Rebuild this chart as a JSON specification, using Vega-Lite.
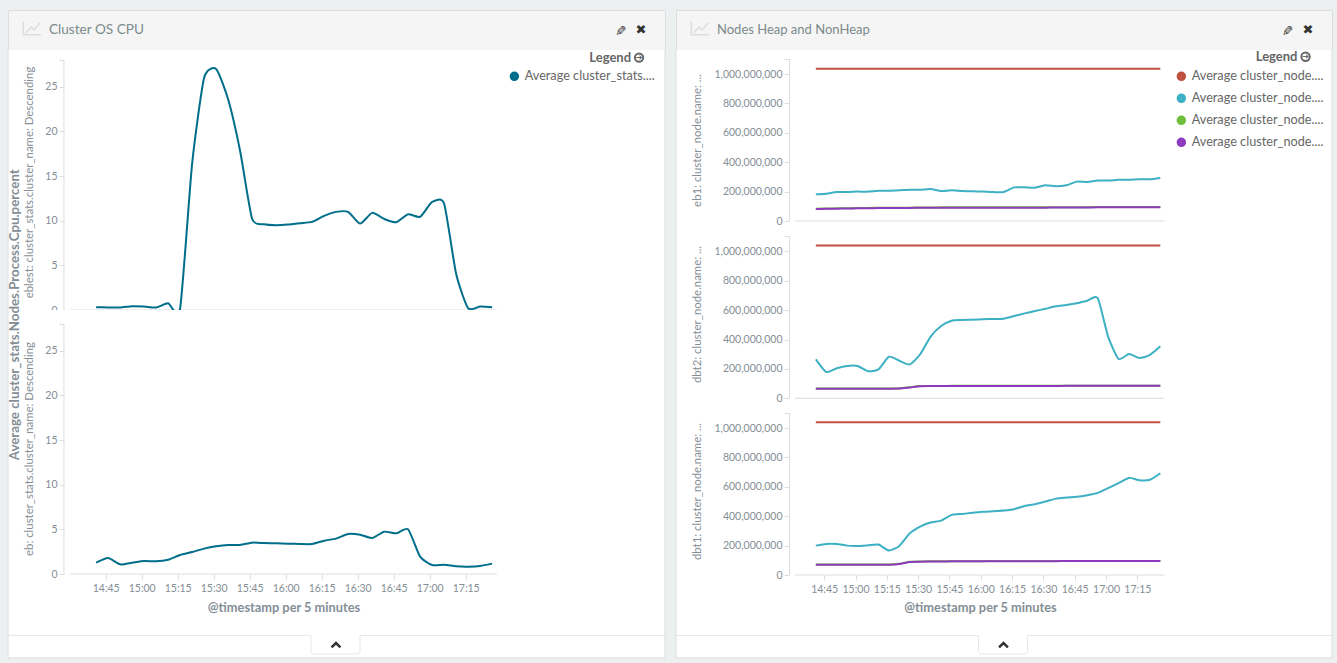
{"$schema":"https://vega.github.io/schema/vega-lite/v6.json","background":"#ecf0f1","padding":{"left":6,"top":9,"right":5,"bottom":5},"spacing":7,"config":{"font":"Lato","view":{"stroke":null,"fill":"#ffffff"},"axis":{"domain":false,"grid":false,"tickColor":"#dddddd","labelColor":"#848e96","titleColor":"#848e96","labelFontSize":10.5,"titleFontSize":11.4,"titleFontWeight":"normal","labelOverlap":false,"labelFlush":false}},"resolve":{"scale":{"color":"independent"}},
"datasets":{
"headerIcon":[{"pos":0.0233,"y":0.29,"part":"a"},{"pos":0.0233,"y":0.62,"part":"a"},{"pos":0.0502,"y":0.62,"part":"a"},{"pos":0.0274,"y":0.575,"part":"b"},{"pos":0.035,"y":0.425,"part":"b"},{"pos":0.0396,"y":0.5,"part":"b"},{"pos":0.0487,"y":0.325,"part":"b"}],
"footerLine":[{"pos":0,"y":0.02},{"pos":0.4612,"y":0.02},{"pos":0.4612,"y":0.74},{"pos":0.4642,"y":0.826},{"pos":0.5328,"y":0.826},{"pos":0.5358,"y":0.74},{"pos":0.5358,"y":0.02},{"pos":1,"y":0.02}],
"footerFrame":[{"pos":0,"y":0,"part":"l"},{"pos":0,"y":1,"part":"l"},{"pos":1,"y":0,"part":"r"},{"pos":1,"y":1,"part":"r"},{"pos":0,"y":1,"part":"b"},{"pos":1,"y":1,"part":"b"}],
"chevron":[{"pos":0.4924,"y":0.54},{"pos":0.4992,"y":0.35},{"pos":0.506,"y":0.54}],
"cpuA":[{"t":"2015-06-01T14:41:00Z","v":0.32},{"t":"2015-06-01T14:46:00Z","v":0.28},{"t":"2015-06-01T14:51:00Z","v":0.28},{"t":"2015-06-01T14:56:00Z","v":0.43},{"t":"2015-06-01T15:01:00Z","v":0.39},{"t":"2015-06-01T15:06:00Z","v":0.28},{"t":"2015-06-01T15:11:00Z","v":0.76},{"t":"2015-06-01T15:16:00Z","v":0.2},{"t":"2015-06-01T15:21:00Z","v":16.4},{"t":"2015-06-01T15:26:00Z","v":26.0},{"t":"2015-06-01T15:31:00Z","v":27.0},{"t":"2015-06-01T15:36:00Z","v":23.6},{"t":"2015-06-01T15:41:00Z","v":17.8},{"t":"2015-06-01T15:46:00Z","v":10.2},{"t":"2015-06-01T15:51:00Z","v":9.6},{"t":"2015-06-01T15:56:00Z","v":9.5},{"t":"2015-06-01T16:01:00Z","v":9.57},{"t":"2015-06-01T16:06:00Z","v":9.72},{"t":"2015-06-01T16:11:00Z","v":9.87},{"t":"2015-06-01T16:16:00Z","v":10.54},{"t":"2015-06-01T16:21:00Z","v":10.99},{"t":"2015-06-01T16:26:00Z","v":10.99},{"t":"2015-06-01T16:31:00Z","v":9.68},{"t":"2015-06-01T16:36:00Z","v":10.88},{"t":"2015-06-01T16:41:00Z","v":10.2},{"t":"2015-06-01T16:46:00Z","v":9.83},{"t":"2015-06-01T16:51:00Z","v":10.73},{"t":"2015-06-01T16:56:00Z","v":10.43},{"t":"2015-06-01T17:01:00Z","v":12.1},{"t":"2015-06-01T17:06:00Z","v":11.9},{"t":"2015-06-01T17:11:00Z","v":4.05},{"t":"2015-06-01T17:16:00Z","v":0.2},{"t":"2015-06-01T17:21:00Z","v":0.39},{"t":"2015-06-01T17:26:00Z","v":0.32}],
"cpuB":[{"t":"2015-06-01T14:41:00Z","v":1.27},{"t":"2015-06-01T14:46:00Z","v":1.79},{"t":"2015-06-01T14:51:00Z","v":1.08},{"t":"2015-06-01T14:56:00Z","v":1.27},{"t":"2015-06-01T15:01:00Z","v":1.46},{"t":"2015-06-01T15:06:00Z","v":1.42},{"t":"2015-06-01T15:11:00Z","v":1.6},{"t":"2015-06-01T15:16:00Z","v":2.13},{"t":"2015-06-01T15:21:00Z","v":2.46},{"t":"2015-06-01T15:26:00Z","v":2.84},{"t":"2015-06-01T15:31:00Z","v":3.1},{"t":"2015-06-01T15:36:00Z","v":3.25},{"t":"2015-06-01T15:41:00Z","v":3.25},{"t":"2015-06-01T15:46:00Z","v":3.51},{"t":"2015-06-01T15:51:00Z","v":3.47},{"t":"2015-06-01T15:56:00Z","v":3.43},{"t":"2015-06-01T16:01:00Z","v":3.4},{"t":"2015-06-01T16:06:00Z","v":3.36},{"t":"2015-06-01T16:11:00Z","v":3.36},{"t":"2015-06-01T16:16:00Z","v":3.73},{"t":"2015-06-01T16:21:00Z","v":3.96},{"t":"2015-06-01T16:26:00Z","v":4.48},{"t":"2015-06-01T16:31:00Z","v":4.4},{"t":"2015-06-01T16:36:00Z","v":4.03},{"t":"2015-06-01T16:41:00Z","v":4.74},{"t":"2015-06-01T16:46:00Z","v":4.55},{"t":"2015-06-01T16:51:00Z","v":5.0},{"t":"2015-06-01T16:56:00Z","v":1.94},{"t":"2015-06-01T17:01:00Z","v":1.0},{"t":"2015-06-01T17:06:00Z","v":1.04},{"t":"2015-06-01T17:11:00Z","v":0.86},{"t":"2015-06-01T17:16:00Z","v":0.82},{"t":"2015-06-01T17:21:00Z","v":0.9},{"t":"2015-06-01T17:26:00Z","v":1.16}],
"eb1":[{"t":"2015-06-01T14:41:00Z","heap_max":1037000000,"heap_used":181500000,"nonheap_committed":84000000,"nonheap_used":82000000},{"t":"2015-06-01T14:46:00Z","heap_max":1037000000,"heap_used":186000000,"nonheap_committed":85000000,"nonheap_used":83000000},{"t":"2015-06-01T14:51:00Z","heap_max":1037000000,"heap_used":197000000,"nonheap_committed":86000000,"nonheap_used":84000000},{"t":"2015-06-01T14:56:00Z","heap_max":1037000000,"heap_used":197000000,"nonheap_committed":87000000,"nonheap_used":85000000},{"t":"2015-06-01T15:01:00Z","heap_max":1037000000,"heap_used":200000000,"nonheap_committed":88000000,"nonheap_used":86000000},{"t":"2015-06-01T15:06:00Z","heap_max":1037000000,"heap_used":200000000,"nonheap_committed":89000000,"nonheap_used":87000000},{"t":"2015-06-01T15:11:00Z","heap_max":1037000000,"heap_used":206000000,"nonheap_committed":90000000,"nonheap_used":88000000},{"t":"2015-06-01T15:16:00Z","heap_max":1037000000,"heap_used":206000000,"nonheap_committed":90000000,"nonheap_used":88000000},{"t":"2015-06-01T15:21:00Z","heap_max":1037000000,"heap_used":209000000,"nonheap_committed":91000000,"nonheap_used":89000000},{"t":"2015-06-01T15:26:00Z","heap_max":1037000000,"heap_used":213000000,"nonheap_committed":91000000,"nonheap_used":89000000},{"t":"2015-06-01T15:31:00Z","heap_max":1037000000,"heap_used":213000000,"nonheap_committed":92000000,"nonheap_used":90000000},{"t":"2015-06-01T15:36:00Z","heap_max":1037000000,"heap_used":218000000,"nonheap_committed":92000000,"nonheap_used":90000000},{"t":"2015-06-01T15:41:00Z","heap_max":1037000000,"heap_used":204000000,"nonheap_committed":93000000,"nonheap_used":91000000},{"t":"2015-06-01T15:46:00Z","heap_max":1037000000,"heap_used":209000000,"nonheap_committed":93000000,"nonheap_used":91000000},{"t":"2015-06-01T15:51:00Z","heap_max":1037000000,"heap_used":204000000,"nonheap_committed":93000000,"nonheap_used":91000000},{"t":"2015-06-01T15:56:00Z","heap_max":1037000000,"heap_used":202000000,"nonheap_committed":93000000,"nonheap_used":91000000},{"t":"2015-06-01T16:01:00Z","heap_max":1037000000,"heap_used":200000000,"nonheap_committed":93000000,"nonheap_used":91000000},{"t":"2015-06-01T16:06:00Z","heap_max":1037000000,"heap_used":197000000,"nonheap_committed":93000000,"nonheap_used":91000000},{"t":"2015-06-01T16:11:00Z","heap_max":1037000000,"heap_used":197000000,"nonheap_committed":93000000,"nonheap_used":91000000},{"t":"2015-06-01T16:16:00Z","heap_max":1037000000,"heap_used":229000000,"nonheap_committed":93000000,"nonheap_used":91000000},{"t":"2015-06-01T16:21:00Z","heap_max":1037000000,"heap_used":229000000,"nonheap_committed":93000000,"nonheap_used":91000000},{"t":"2015-06-01T16:26:00Z","heap_max":1037000000,"heap_used":227000000,"nonheap_committed":93000000,"nonheap_used":91000000},{"t":"2015-06-01T16:31:00Z","heap_max":1037000000,"heap_used":243000000,"nonheap_committed":93000000,"nonheap_used":91000000},{"t":"2015-06-01T16:36:00Z","heap_max":1037000000,"heap_used":236000000,"nonheap_committed":94000000,"nonheap_used":92000000},{"t":"2015-06-01T16:41:00Z","heap_max":1037000000,"heap_used":243000000,"nonheap_committed":94000000,"nonheap_used":92000000},{"t":"2015-06-01T16:46:00Z","heap_max":1037000000,"heap_used":268000000,"nonheap_committed":94000000,"nonheap_used":92000000},{"t":"2015-06-01T16:51:00Z","heap_max":1037000000,"heap_used":265000000,"nonheap_committed":94000000,"nonheap_used":92000000},{"t":"2015-06-01T16:56:00Z","heap_max":1037000000,"heap_used":275000000,"nonheap_committed":95000000,"nonheap_used":93000000},{"t":"2015-06-01T17:01:00Z","heap_max":1037000000,"heap_used":275000000,"nonheap_committed":95000000,"nonheap_used":93000000},{"t":"2015-06-01T17:06:00Z","heap_max":1037000000,"heap_used":281000000,"nonheap_committed":95000000,"nonheap_used":93000000},{"t":"2015-06-01T17:11:00Z","heap_max":1037000000,"heap_used":281000000,"nonheap_committed":95000000,"nonheap_used":93000000},{"t":"2015-06-01T17:16:00Z","heap_max":1037000000,"heap_used":284000000,"nonheap_committed":95000000,"nonheap_used":93000000},{"t":"2015-06-01T17:21:00Z","heap_max":1037000000,"heap_used":284000000,"nonheap_committed":95000000,"nonheap_used":93000000},{"t":"2015-06-01T17:26:00Z","heap_max":1037000000,"heap_used":293000000,"nonheap_committed":95000000,"nonheap_used":93000000}],
"dbt2":[{"t":"2015-06-01T14:41:00Z","heap_max":1041000000,"heap_used":265000000,"nonheap_committed":66000000,"nonheap_used":65000000},{"t":"2015-06-01T14:46:00Z","heap_max":1041000000,"heap_used":179000000,"nonheap_committed":66000000,"nonheap_used":65000000},{"t":"2015-06-01T14:51:00Z","heap_max":1041000000,"heap_used":204000000,"nonheap_committed":66000000,"nonheap_used":65000000},{"t":"2015-06-01T14:56:00Z","heap_max":1041000000,"heap_used":220000000,"nonheap_committed":66000000,"nonheap_used":65000000},{"t":"2015-06-01T15:01:00Z","heap_max":1041000000,"heap_used":220000000,"nonheap_committed":66000000,"nonheap_used":65000000},{"t":"2015-06-01T15:06:00Z","heap_max":1041000000,"heap_used":184000000,"nonheap_committed":66000000,"nonheap_used":65000000},{"t":"2015-06-01T15:11:00Z","heap_max":1041000000,"heap_used":197000000,"nonheap_committed":66000000,"nonheap_used":65000000},{"t":"2015-06-01T15:16:00Z","heap_max":1041000000,"heap_used":283000000,"nonheap_committed":66000000,"nonheap_used":65000000},{"t":"2015-06-01T15:21:00Z","heap_max":1041000000,"heap_used":256000000,"nonheap_committed":67000000,"nonheap_used":66000000},{"t":"2015-06-01T15:26:00Z","heap_max":1041000000,"heap_used":231000000,"nonheap_committed":75000000,"nonheap_used":74000000},{"t":"2015-06-01T15:31:00Z","heap_max":1041000000,"heap_used":300000000,"nonheap_committed":83000000,"nonheap_used":82000000},{"t":"2015-06-01T15:36:00Z","heap_max":1041000000,"heap_used":420000000,"nonheap_committed":84000000,"nonheap_used":83000000},{"t":"2015-06-01T15:41:00Z","heap_max":1041000000,"heap_used":492000000,"nonheap_committed":84000000,"nonheap_used":83000000},{"t":"2015-06-01T15:46:00Z","heap_max":1041000000,"heap_used":528000000,"nonheap_committed":85000000,"nonheap_used":84000000},{"t":"2015-06-01T15:51:00Z","heap_max":1041000000,"heap_used":533000000,"nonheap_committed":85000000,"nonheap_used":84000000},{"t":"2015-06-01T15:56:00Z","heap_max":1041000000,"heap_used":535000000,"nonheap_committed":85000000,"nonheap_used":84000000},{"t":"2015-06-01T16:01:00Z","heap_max":1041000000,"heap_used":538000000,"nonheap_committed":85000000,"nonheap_used":84000000},{"t":"2015-06-01T16:06:00Z","heap_max":1041000000,"heap_used":540000000,"nonheap_committed":85000000,"nonheap_used":84000000},{"t":"2015-06-01T16:11:00Z","heap_max":1041000000,"heap_used":542000000,"nonheap_committed":85000000,"nonheap_used":84000000},{"t":"2015-06-01T16:16:00Z","heap_max":1041000000,"heap_used":560000000,"nonheap_committed":85000000,"nonheap_used":84000000},{"t":"2015-06-01T16:21:00Z","heap_max":1041000000,"heap_used":578000000,"nonheap_committed":85000000,"nonheap_used":84000000},{"t":"2015-06-01T16:26:00Z","heap_max":1041000000,"heap_used":594000000,"nonheap_committed":85000000,"nonheap_used":84000000},{"t":"2015-06-01T16:31:00Z","heap_max":1041000000,"heap_used":610000000,"nonheap_committed":85000000,"nonheap_used":84000000},{"t":"2015-06-01T16:36:00Z","heap_max":1041000000,"heap_used":626000000,"nonheap_committed":85000000,"nonheap_used":84000000},{"t":"2015-06-01T16:41:00Z","heap_max":1041000000,"heap_used":635000000,"nonheap_committed":86000000,"nonheap_used":85000000},{"t":"2015-06-01T16:46:00Z","heap_max":1041000000,"heap_used":647000000,"nonheap_committed":86000000,"nonheap_used":85000000},{"t":"2015-06-01T16:51:00Z","heap_max":1041000000,"heap_used":664000000,"nonheap_committed":86000000,"nonheap_used":85000000},{"t":"2015-06-01T16:56:00Z","heap_max":1041000000,"heap_used":682000000,"nonheap_committed":86000000,"nonheap_used":85000000},{"t":"2015-06-01T17:01:00Z","heap_max":1041000000,"heap_used":420000000,"nonheap_committed":86000000,"nonheap_used":85000000},{"t":"2015-06-01T17:06:00Z","heap_max":1041000000,"heap_used":268000000,"nonheap_committed":86000000,"nonheap_used":85000000},{"t":"2015-06-01T17:11:00Z","heap_max":1041000000,"heap_used":301000000,"nonheap_committed":86000000,"nonheap_used":85000000},{"t":"2015-06-01T17:16:00Z","heap_max":1041000000,"heap_used":274000000,"nonheap_committed":86000000,"nonheap_used":85000000},{"t":"2015-06-01T17:21:00Z","heap_max":1041000000,"heap_used":295000000,"nonheap_committed":86000000,"nonheap_used":85000000},{"t":"2015-06-01T17:26:00Z","heap_max":1041000000,"heap_used":354000000,"nonheap_committed":86000000,"nonheap_used":85000000}],
"dbt1":[{"t":"2015-06-01T14:41:00Z","heap_max":1039000000,"heap_used":200000000,"nonheap_committed":71000000,"nonheap_used":70000000},{"t":"2015-06-01T14:46:00Z","heap_max":1039000000,"heap_used":211000000,"nonheap_committed":71000000,"nonheap_used":70000000},{"t":"2015-06-01T14:51:00Z","heap_max":1039000000,"heap_used":211000000,"nonheap_committed":71000000,"nonheap_used":70000000},{"t":"2015-06-01T14:56:00Z","heap_max":1039000000,"heap_used":200000000,"nonheap_committed":71000000,"nonheap_used":70000000},{"t":"2015-06-01T15:01:00Z","heap_max":1039000000,"heap_used":198000000,"nonheap_committed":71000000,"nonheap_used":70000000},{"t":"2015-06-01T15:06:00Z","heap_max":1039000000,"heap_used":202000000,"nonheap_committed":71000000,"nonheap_used":70000000},{"t":"2015-06-01T15:11:00Z","heap_max":1039000000,"heap_used":207000000,"nonheap_committed":71000000,"nonheap_used":70000000},{"t":"2015-06-01T15:16:00Z","heap_max":1039000000,"heap_used":166000000,"nonheap_committed":71000000,"nonheap_used":70000000},{"t":"2015-06-01T15:21:00Z","heap_max":1039000000,"heap_used":198000000,"nonheap_committed":76000000,"nonheap_used":75000000},{"t":"2015-06-01T15:26:00Z","heap_max":1039000000,"heap_used":284000000,"nonheap_committed":90000000,"nonheap_used":89000000},{"t":"2015-06-01T15:31:00Z","heap_max":1039000000,"heap_used":330000000,"nonheap_committed":92000000,"nonheap_used":91000000},{"t":"2015-06-01T15:36:00Z","heap_max":1039000000,"heap_used":357000000,"nonheap_committed":93000000,"nonheap_used":92000000},{"t":"2015-06-01T15:41:00Z","heap_max":1039000000,"heap_used":370000000,"nonheap_committed":93000000,"nonheap_used":92000000},{"t":"2015-06-01T15:46:00Z","heap_max":1039000000,"heap_used":409000000,"nonheap_committed":94000000,"nonheap_used":93000000},{"t":"2015-06-01T15:51:00Z","heap_max":1039000000,"heap_used":416000000,"nonheap_committed":94000000,"nonheap_used":93000000},{"t":"2015-06-01T15:56:00Z","heap_max":1039000000,"heap_used":423000000,"nonheap_committed":94000000,"nonheap_used":93000000},{"t":"2015-06-01T16:01:00Z","heap_max":1039000000,"heap_used":430000000,"nonheap_committed":94000000,"nonheap_used":93000000},{"t":"2015-06-01T16:06:00Z","heap_max":1039000000,"heap_used":434000000,"nonheap_committed":95000000,"nonheap_used":94000000},{"t":"2015-06-01T16:11:00Z","heap_max":1039000000,"heap_used":439000000,"nonheap_committed":95000000,"nonheap_used":94000000},{"t":"2015-06-01T16:16:00Z","heap_max":1039000000,"heap_used":448000000,"nonheap_committed":95000000,"nonheap_used":94000000},{"t":"2015-06-01T16:21:00Z","heap_max":1039000000,"heap_used":470000000,"nonheap_committed":95000000,"nonheap_used":94000000},{"t":"2015-06-01T16:26:00Z","heap_max":1039000000,"heap_used":482000000,"nonheap_committed":95000000,"nonheap_used":94000000},{"t":"2015-06-01T16:31:00Z","heap_max":1039000000,"heap_used":500000000,"nonheap_committed":95000000,"nonheap_used":94000000},{"t":"2015-06-01T16:36:00Z","heap_max":1039000000,"heap_used":520000000,"nonheap_committed":95000000,"nonheap_used":94000000},{"t":"2015-06-01T16:41:00Z","heap_max":1039000000,"heap_used":527000000,"nonheap_committed":96000000,"nonheap_used":95000000},{"t":"2015-06-01T16:46:00Z","heap_max":1039000000,"heap_used":532000000,"nonheap_committed":96000000,"nonheap_used":95000000},{"t":"2015-06-01T16:51:00Z","heap_max":1039000000,"heap_used":543000000,"nonheap_committed":96000000,"nonheap_used":95000000},{"t":"2015-06-01T16:56:00Z","heap_max":1039000000,"heap_used":559000000,"nonheap_committed":96000000,"nonheap_used":95000000},{"t":"2015-06-01T17:01:00Z","heap_max":1039000000,"heap_used":591000000,"nonheap_committed":96000000,"nonheap_used":95000000},{"t":"2015-06-01T17:06:00Z","heap_max":1039000000,"heap_used":625000000,"nonheap_committed":96000000,"nonheap_used":95000000},{"t":"2015-06-01T17:11:00Z","heap_max":1039000000,"heap_used":661000000,"nonheap_committed":96000000,"nonheap_used":95000000},{"t":"2015-06-01T17:16:00Z","heap_max":1039000000,"heap_used":645000000,"nonheap_committed":96000000,"nonheap_used":95000000},{"t":"2015-06-01T17:21:00Z","heap_max":1039000000,"heap_used":648000000,"nonheap_committed":96000000,"nonheap_used":95000000},{"t":"2015-06-01T17:26:00Z","heap_max":1039000000,"heap_used":693000000,"nonheap_committed":96000000,"nonheap_used":95000000}]
},
"hconcat":[
{"vconcat":[
{"width":657,"height":40,"view":{"fill":"#f5f5f5","stroke":"#dddddd"},"encoding":{"x":{"field":"pos","type":"quantitative","scale":{"domain":[0,1]},"axis":null},"y":{"field":"y","type":"quantitative","scale":{"domain":[1,0]},"axis":null}},"layer":[
{"data":{"name":"headerIcon"},"mark":{"type":"line","color":"#dddddd","strokeWidth":1.5},"encoding":{"detail":{"field":"part"}}},
{"data":{"values":[{"pos":0.0624,"y":0.5,"label":"Cluster OS CPU"}]},"mark":{"type":"text","align":"left","baseline":"middle","fontSize":13.6,"color":"#7b8a8b"},"encoding":{"text":{"field":"label"}}},
{"data":{"values":[{"pos":0.9315,"y":0.5,"label":"✏"}]},"mark":{"type":"text","align":"center","baseline":"middle","font":"DejaVu Sans","fontWeight":"bold","fontSize":14,"angle":135,"color":"#333333"},"encoding":{"text":{"field":"label"}}},
{"data":{"values":[{"pos":0.9635,"y":0.5,"label":"✖"}]},"mark":{"type":"text","align":"center","baseline":"middle","font":"DejaVu Sans","fontSize":13,"color":"#333333"},"encoding":{"text":{"field":"label"}}}
]},
{"width":657,"height":260,"encoding":{"x":{"field":"t","type":"temporal","scale":{"type":"utc","domain":[1433167457000,1433183882000]},"axis":null},"y":{"field":"v","type":"quantitative","scale":{"domain":[0,29.12],"nice":false,"zero":false},"axis":{"offset":-56,"values":[0,5,10,15,20,25,28.02],"labelExpr":"datum.value>25?'':datum.label","title":"eblest: cluster_stats.cluster_name: Descending","titleX":-30,"titleY":132}}},"layer":[
{"data":{"values":[{"t":"2015-06-01T14:04:17Z","v":0,"part":"l"},{"t":"2015-06-01T14:04:17Z","v":29.12,"part":"l"},{"t":"2015-06-01T18:38:02Z","v":0,"part":"r"},{"t":"2015-06-01T18:38:02Z","v":29.12,"part":"r"},{"t":"2015-06-01T14:27:36Z","v":0,"part":"y"},{"t":"2015-06-01T14:27:36Z","v":28.02,"part":"y"},{"t":"2015-06-01T14:30:06Z","v":0,"part":"x"},{"t":"2015-06-01T17:27:58Z","v":0,"part":"x"}]},"mark":{"type":"line","color":"#dddddd","strokeWidth":1},"encoding":{"detail":{"field":"part"}}},
{"data":{"name":"cpuA"},"transform":[{"calculate":"'Average cluster_stats.Nodes.Process.Cpu.percent'","as":"series"}],"mark":{"type":"line","interpolate":"cardinal","tension":0.4,"strokeWidth":2,"clip":true},"encoding":{"color":{"field":"series","type":"nominal","scale":{"domain":["Average cluster_stats.Nodes.Process.Cpu.percent"],"range":["#006e8a"]},"legend":{"orient":"none","legendX":500,"legendY":60,"title":null,"symbolType":"circle","symbolSize":20,"symbolStrokeWidth":5,"labelFontSize":12.7,"labelColor":"#666666","labelOffset":4,"padding":0,"labelLimit":200,"labelExpr":"slice(datum.label,0,21)+'....'"}}}},
{"data":{"values":[{"t":"2015-06-01T18:23:53Z","v":28.27,"label":"Legend"}]},"mark":{"type":"text","align":"right","baseline":"middle","fontSize":13,"fontWeight":"bold","color":"#666666"},"encoding":{"text":{"field":"label"}}},
{"data":{"values":[{"t":"2015-06-01T18:27:13Z","v":28.27}]},"mark":{"type":"point","shape":"circle","filled":false,"size":70,"strokeWidth":2,"color":"#666666","opacity":1}},
{"data":{"values":[{"t":"2015-06-01T18:27:13Z","v":28.27,"label":"➔"}]},"mark":{"type":"text","align":"center","baseline":"middle","font":"DejaVu Sans","fontSize":8,"color":"#666666"},"encoding":{"text":{"field":"label"}}}
]},
{"width":657,"height":325,"encoding":{"x":{"field":"t","type":"temporal","scale":{"type":"utc","domain":[1433167457000,1433183882000]},"axis":{"offset":-61,"values":[1433169900000,1433170800000,1433171700000,1433172600000,1433173500000,1433174400000,1433175300000,1433176200000,1433177100000,1433178000000,1433178900000],"labelExpr":"utcFormat(datum.value,'%H:%M')","labelPadding":4,"title":"@timestamp per 5 minutes","titleFontWeight":"bold","titleFontSize":12.8,"titleX":275.5,"titleY":27,"tickSize":5}},"y":{"field":"v","type":"quantitative","scale":{"domain":[-6.83,29.56],"nice":false,"zero":false},"axis":{"offset":-56,"values":[0,5,10,15,20,25,28.02],"labelExpr":"datum.value>25?'':datum.label","title":"eb: cluster_stats.cluster_name: Descending","titleX":-30,"titleY":138.5}}},"layer":[
{"data":{"values":[{"t":"2015-06-01T14:04:17Z","v":-6.83,"part":"l"},{"t":"2015-06-01T14:04:17Z","v":29.56,"part":"l"},{"t":"2015-06-01T18:38:02Z","v":-6.83,"part":"r"},{"t":"2015-06-01T18:38:02Z","v":29.56,"part":"r"},{"t":"2015-06-01T14:27:36Z","v":0,"part":"y"},{"t":"2015-06-01T14:27:36Z","v":28.02,"part":"y"},{"t":"2015-06-01T14:30:06Z","v":0,"part":"x"},{"t":"2015-06-01T17:27:58Z","v":0,"part":"x"}]},"mark":{"type":"line","color":"#dddddd","strokeWidth":1},"encoding":{"detail":{"field":"part"}}},
{"data":{"name":"cpuB"},"mark":{"type":"line","interpolate":"cardinal","tension":0.4,"strokeWidth":2,"color":"#006e8a"}},
{"data":{"values":[{"t":"2015-06-01T14:07:12Z","v":29.03,"label":"Average cluster_stats.Nodes.Process.Cpu.percent"}]},"mark":{"type":"text","align":"center","baseline":"middle","angle":270,"fontSize":13.3,"fontWeight":"bold","color":"#848e96"},"encoding":{"text":{"field":"label"}}}
]},
{"width":657,"height":23,"encoding":{"x":{"field":"pos","type":"quantitative","scale":{"domain":[0,1]},"axis":null},"y":{"field":"y","type":"quantitative","scale":{"domain":[1,0]},"axis":null}},"layer":[
{"data":{"name":"footerLine"},"mark":{"type":"line","color":"#e8e8e8","strokeWidth":1}},
{"data":{"name":"footerFrame"},"mark":{"type":"line","color":"#dddddd","strokeWidth":1},"encoding":{"detail":{"field":"part"}}},
{"data":{"name":"chevron"},"mark":{"type":"line","color":"#333333","strokeWidth":2.5}}
]}
],"spacing":0,"bounds":"flush"},
{"vconcat":[
{"width":656,"height":40,"view":{"fill":"#f5f5f5","stroke":"#dddddd"},"encoding":{"x":{"field":"pos","type":"quantitative","scale":{"domain":[0,1]},"axis":null},"y":{"field":"y","type":"quantitative","scale":{"domain":[1,0]},"axis":null}},"layer":[
{"data":{"name":"headerIcon"},"mark":{"type":"line","color":"#dddddd","strokeWidth":1.5},"encoding":{"detail":{"field":"part"}}},
{"data":{"values":[{"pos":0.0625,"y":0.5,"label":"Nodes Heap and NonHeap"}]},"mark":{"type":"text","align":"left","baseline":"middle","fontSize":13,"color":"#7b8a8b"},"encoding":{"text":{"field":"label"}}},
{"data":{"values":[{"pos":0.931,"y":0.5,"label":"✏"}]},"mark":{"type":"text","align":"center","baseline":"middle","font":"DejaVu Sans","fontWeight":"bold","fontSize":14,"angle":135,"color":"#333333"},"encoding":{"text":{"field":"label"}}},
{"data":{"values":[{"pos":0.9634,"y":0.5,"label":"✖"}]},"mark":{"type":"text","align":"center","baseline":"middle","font":"DejaVu Sans","fontSize":13,"color":"#333333"},"encoding":{"text":{"field":"label"}}}
]},
{"width":656,"height":179,"encoding":{"x":{"field":"t","type":"temporal","scale":{"type":"utc","domain":[1433165641000,1433184494000]},"axis":null},"y":{"field":"v","type":"quantitative","scale":{"domain":[-54460000,1164100000],"nice":false,"zero":false},"axis":{"offset":-113,"values":[0,200000000,400000000,600000000,800000000,1000000000,1102000000],"labelExpr":"datum.value>1000000000?'':format(datum.value,',')","title":"eb1: cluster_node.name: ...","titleX":-87,"titleY":90}}},"layer":[
{"data":{"values":[{"t":"2015-06-01T13:34:01Z","v":-54460000,"part":"l"},{"t":"2015-06-01T13:34:01Z","v":1164100000,"part":"l"},{"t":"2015-06-01T18:48:14Z","v":-54460000,"part":"r"},{"t":"2015-06-01T18:48:14Z","v":1164100000,"part":"r"},{"t":"2015-06-01T14:28:24Z","v":0,"part":"y"},{"t":"2015-06-01T14:28:24Z","v":1102000000,"part":"y"},{"t":"2015-06-01T14:31:00Z","v":0,"part":"x"},{"t":"2015-06-01T17:28:00Z","v":0,"part":"x"}]},"mark":{"type":"line","color":"#dddddd","strokeWidth":1},"encoding":{"detail":{"field":"part"}}},
{"data":{"name":"eb1"},"transform":[{"fold":["heap_max","heap_used","nonheap_committed","nonheap_used"],"as":["series","v"]}],"mark":{"type":"line","interpolate":"cardinal","tension":0.4,"strokeWidth":2},"encoding":{"color":{"field":"series","type":"nominal","scale":{"domain":["heap_max","heap_used","nonheap_committed","nonheap_used"],"range":["#bf4f3f","#3db0c3","#6fbe3c","#8e3abf"]},"legend":{"orient":"none","legendX":499,"legendY":60,"title":null,"symbolType":"circle","symbolSize":20,"symbolStrokeWidth":5,"labelFontSize":12.7,"labelColor":"#666666","labelOffset":4,"padding":0,"rowPadding":-3,"labelLimit":200,"labelExpr":"'Average cluster_node....'"}}}},
{"data":{"values":[{"t":"2015-06-01T18:31:42Z","v":1118000000,"label":"Legend"}]},"mark":{"type":"text","align":"right","baseline":"middle","fontSize":13,"fontWeight":"bold","color":"#666666"},"encoding":{"text":{"field":"label"}}},
{"data":{"values":[{"t":"2015-06-01T18:35:34Z","v":1118000000}]},"mark":{"type":"point","shape":"circle","filled":false,"size":70,"strokeWidth":2,"color":"#666666","opacity":1}},
{"data":{"values":[{"t":"2015-06-01T18:35:34Z","v":1118000000,"label":"➔"}]},"mark":{"type":"text","align":"center","baseline":"middle","font":"DejaVu Sans","fontSize":8,"color":"#666666"},"encoding":{"text":{"field":"label"}}}
]},
{"width":656,"height":177,"encoding":{"x":{"field":"t","type":"temporal","scale":{"type":"utc","domain":[1433165641000,1433184494000]},"axis":null},"y":{"field":"v","type":"quantitative","scale":{"domain":[-52400000,1152500000],"nice":false,"zero":false},"axis":{"offset":-113,"values":[0,200000000,400000000,600000000,800000000,1000000000,1102000000],"labelExpr":"datum.value>1000000000?'':format(datum.value,',')","title":"dbt2: cluster_node.name: ...","titleX":-87,"titleY":85}}},"layer":[
{"data":{"values":[{"t":"2015-06-01T13:34:01Z","v":-52400000,"part":"l"},{"t":"2015-06-01T13:34:01Z","v":1152500000,"part":"l"},{"t":"2015-06-01T18:48:14Z","v":-52400000,"part":"r"},{"t":"2015-06-01T18:48:14Z","v":1152500000,"part":"r"},{"t":"2015-06-01T14:28:24Z","v":0,"part":"y"},{"t":"2015-06-01T14:28:24Z","v":1102000000,"part":"y"},{"t":"2015-06-01T14:31:00Z","v":0,"part":"x"},{"t":"2015-06-01T17:28:00Z","v":0,"part":"x"}]},"mark":{"type":"line","color":"#dddddd","strokeWidth":1},"encoding":{"detail":{"field":"part"}}},
{"data":{"name":"dbt2"},"transform":[{"fold":["heap_max","heap_used","nonheap_committed","nonheap_used"],"as":["series","v"]}],"mark":{"type":"line","interpolate":"cardinal","tension":0.4,"strokeWidth":2},"encoding":{"color":{"field":"series","type":"nominal","scale":{"domain":["heap_max","heap_used","nonheap_committed","nonheap_used"],"range":["#bf4f3f","#3db0c3","#6fbe3c","#8e3abf"]},"legend":null}}}
]},
{"width":656,"height":229,"encoding":{"x":{"field":"t","type":"temporal","scale":{"type":"utc","domain":[1433165641000,1433184494000]},"axis":{"offset":-60,"values":[1433169900000,1433170800000,1433171700000,1433172600000,1433173500000,1433174400000,1433175300000,1433176200000,1433177100000,1433178000000,1433178900000],"labelExpr":"utcFormat(datum.value,'%H:%M')","labelPadding":4,"title":"@timestamp per 5 minutes","titleFontWeight":"bold","titleFontSize":12.8,"titleX":304,"titleY":26,"tickSize":5}},"y":{"field":"v","type":"quantitative","scale":{"domain":[-408400000,1150400000],"nice":false,"zero":false},"axis":{"offset":-113,"values":[0,200000000,400000000,600000000,800000000,1000000000,1102000000],"labelExpr":"datum.value>1000000000?'':format(datum.value,',')","title":"dbt1: cluster_node.name: ...","titleX":-87,"titleY":85}}},"layer":[
{"data":{"values":[{"t":"2015-06-01T13:34:01Z","v":-408400000,"part":"l"},{"t":"2015-06-01T13:34:01Z","v":1150400000,"part":"l"},{"t":"2015-06-01T18:48:14Z","v":-408400000,"part":"r"},{"t":"2015-06-01T18:48:14Z","v":1150400000,"part":"r"},{"t":"2015-06-01T14:28:24Z","v":0,"part":"y"},{"t":"2015-06-01T14:28:24Z","v":1102000000,"part":"y"},{"t":"2015-06-01T14:31:00Z","v":0,"part":"x"},{"t":"2015-06-01T17:28:00Z","v":0,"part":"x"}]},"mark":{"type":"line","color":"#dddddd","strokeWidth":1},"encoding":{"detail":{"field":"part"}}},
{"data":{"name":"dbt1"},"transform":[{"fold":["heap_max","heap_used","nonheap_committed","nonheap_used"],"as":["series","v"]}],"mark":{"type":"line","interpolate":"cardinal","tension":0.4,"strokeWidth":2},"encoding":{"color":{"field":"series","type":"nominal","scale":{"domain":["heap_max","heap_used","nonheap_committed","nonheap_used"],"range":["#bf4f3f","#3db0c3","#6fbe3c","#8e3abf"]},"legend":null}}}
]},
{"width":656,"height":23,"encoding":{"x":{"field":"pos","type":"quantitative","scale":{"domain":[0,1]},"axis":null},"y":{"field":"y","type":"quantitative","scale":{"domain":[1,0]},"axis":null}},"layer":[
{"data":{"name":"footerLine"},"mark":{"type":"line","color":"#e8e8e8","strokeWidth":1}},
{"data":{"name":"footerFrame"},"mark":{"type":"line","color":"#dddddd","strokeWidth":1},"encoding":{"detail":{"field":"part"}}},
{"data":{"name":"chevron"},"mark":{"type":"line","color":"#333333","strokeWidth":2.5}}
]}
],"spacing":0,"bounds":"flush"}
]}
